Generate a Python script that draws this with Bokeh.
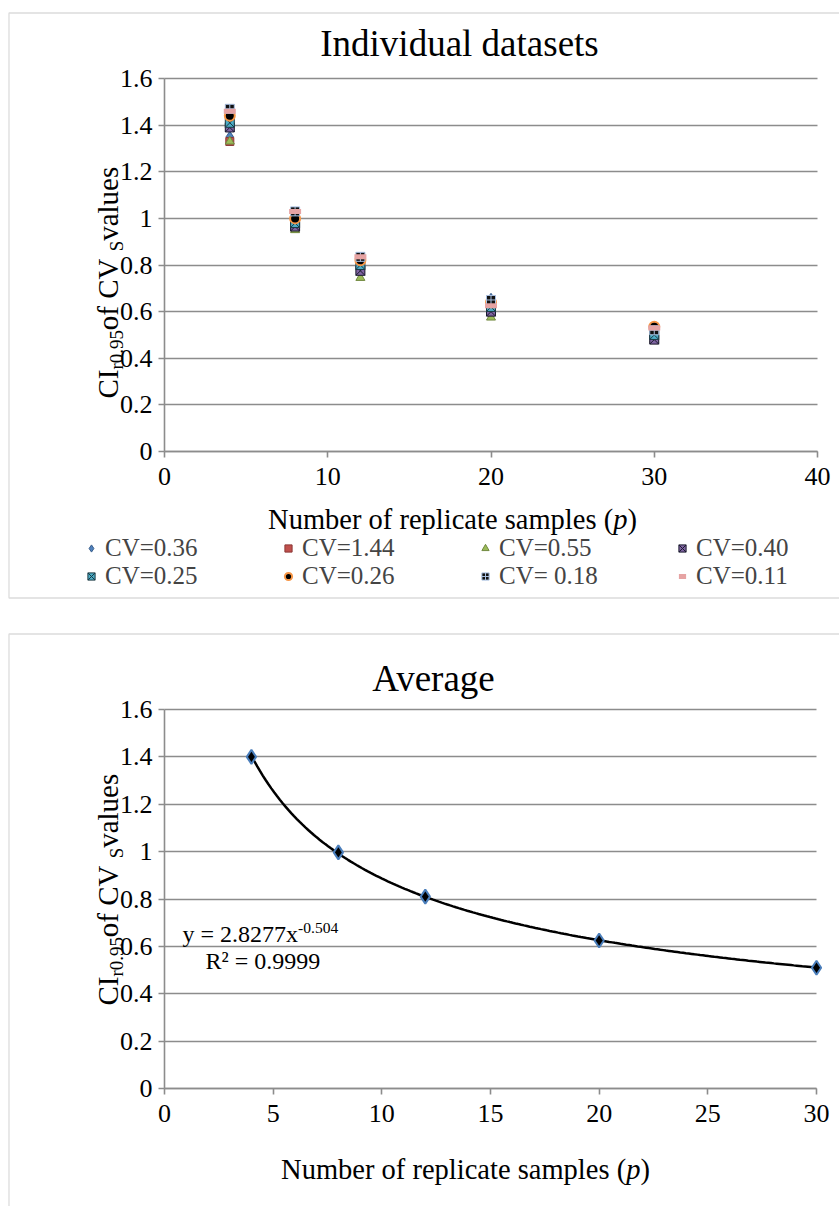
import numpy as np
from bokeh.plotting import figure
from bokeh.models import (Range1d, Legend, LegendItem, Label, FixedTicker, LinearAxis, Grid,
                          NumeralTickFormatter, BoxAnnotation)
from bokeh.layouts import column
from bokeh.embed import file_html
from bokeh.resources import INLINE

# ---------------- data ----------------
p_values = [4, 8, 12, 20, 30]
series_labels = ["CV=0.36", "CV=1.44", "CV=0.55", "CV=0.40",
                 "CV=0.25", "CV=0.26", "CV= 0.18", "CV=0.11"]
cv_036 = [1.35, 0.97, 0.79, 0.655, 0.50]
cv_144 = [1.33, 0.96, 0.78, 0.60, 0.48]
cv_055 = [1.33, 0.95, 0.745, 0.575, 0.48]
cv_040 = [1.39, 0.965, 0.775, 0.60, 0.48]
cv_025 = [1.41, 0.98, 0.80, 0.62, 0.50]
cv_026 = [1.44, 1.00, 0.82, 0.64, 0.535]
cv_018 = [1.47, 1.03, 0.835, 0.65, 0.52]
cv_011 = [1.46, 1.03, 0.835, 0.625, 0.53]
avg_values = [1.40, 0.997, 0.81, 0.625, 0.51]
x_ticks_top = [0, 10, 20, 30, 40]
x_ticks_bottom = [0, 5, 10, 15, 20, 25, 30]
y_ticks = [0, 0.2, 0.4, 0.6, 0.8, 1.0, 1.2, 1.4, 1.6]
title_top = "Individual datasets"
title_bottom = "Average"
eq_text = "y = 2.8277x"
eq_exp = "-0.504"
r2_text = "R² = 0.9999"

FONT = "Liberation Serif"
GRID = "#8c8c8c"
W = 839
BASE_FIX = 0.4   # empirical baseline correction (fraction of font size)

# Times / Liberation Serif advance widths (per em)
TW = {'C': .667, 'I': .333, ' ': .25, 'o': .5, 'f': .333, 'V': .722, 'v': .5,
      'a': .444, 'l': .278, 'u': .5, 'e': .444, 's': .389, 'r': .333, '.': .25,
      'S': .556, 'N': .722, 'm': .778, 'b': .5, 'p': .5, 't': .278, 'c': .444,
      '(': .333, ')': .333, 'i': .278, 'n': .5, '=': .564, 'y': .5, 'x': .5,
      'R': .667, '²': .3, '-': .333}


def tw(s, size):
    return sum(TW.get(ch, .5) for ch in s) * size


class Fig:
    """Figure whose frame fills the canvas; plot area given in canvas pixels."""

    def __init__(self, height, xmax, xticks, px_left, px_right, px_top, px_bottom):
        sx = (px_right - px_left) / xmax
        sy = (px_bottom - px_top) / 1.6
        self.px_left, self.px_bottom, self.h = px_left, px_bottom, height
        p = figure(width=W, height=height, output_backend="svg", toolbar_location=None,
                   x_range=Range1d(-px_left / sx, (W - px_left) / sx),
                   y_range=Range1d(-(height - px_bottom) / sy, px_bottom / sy),
                   x_axis_type=None, y_axis_type=None,
                   min_border=0, min_border_left=0, min_border_right=0,
                   min_border_top=0, min_border_bottom=0)
        p.outline_line_color = None
        p.background_fill_color = "white"
        p.border_fill_color = "white"

        g = Grid(dimension=1, ticker=FixedTicker(ticks=y_ticks),
                 grid_line_color=GRID, grid_line_width=1.6)
        if "cross_bounds" in Grid.properties():
            g.cross_bounds = (0, xmax)
            p.add_layout(g, "center")
        else:
            p.segment(x0=[0] * len(y_ticks), x1=[xmax] * len(y_ticks), y0=y_ticks,
                      y1=y_ticks, line_color=GRID, line_width=1.6, level="underlay")

        xa = LinearAxis(fixed_location=0, bounds=(0, xmax), ticker=FixedTicker(ticks=xticks),
                        formatter=NumeralTickFormatter(format="0"))
        ya = LinearAxis(fixed_location=0, bounds=(0, 1.6), ticker=FixedTicker(ticks=y_ticks),
                        formatter=NumeralTickFormatter(format="0.[0]"))
        for ax in (xa, ya):
            ax.axis_line_color = GRID
            ax.axis_line_width = 1.6
            ax.major_tick_line_color = GRID
            ax.major_tick_line_width = 1.6
            ax.major_tick_in = 0
            ax.major_tick_out = 6
            ax.minor_tick_line_color = None
            ax.major_label_text_font = FONT
            ax.major_label_text_font_size = "26px"
            ax.major_label_text_color = "black"
        ya.major_label_standoff = 6
        xa.major_label_standoff = 10
        p.add_layout(xa, "below")
        p.add_layout(ya, "left")
        self.p = p

    def text(self, txt, x, y, size, align="left", style="normal", vertical=False):
        # x, y: canvas pixel position of the text baseline anchor
        if vertical:
            x, y, angle = x - BASE_FIX * size, y, np.pi / 2
        else:
            x, y, angle = x, y - BASE_FIX * size, 0.0
        self.p.add_layout(Label(x=0, y=0, x_offset=x - self.px_left,
                                y_offset=self.px_bottom - y, text=txt, angle=angle,
                                text_align=align, text_baseline="alphabetic",
                                text_font=FONT, text_font_style=style,
                                text_font_size=f"{size:.1f}px", text_color="black"))

    def ylabel(self, x_base, y_start, size):
        sub = size * 0.65
        pieces = [("CI", size, 0), ("r0.95", sub, 5), (" of CV", size, 0),
                  ("S", sub, 5), (" values", size, 0)]
        y = y_start
        for txt, sz, shift in pieces:
            self.text(txt, x_base + shift, y, sz, vertical=True)
            y -= tw(txt, sz)

    def xlabel(self, cx, y, size):
        a = "Number of replicate samples ("
        total = tw(a, size) + tw("p", size) + tw(")", size)
        x0 = cx - total / 2
        for txt, style in [(a, "normal"), ("p", "italic"), (")", "normal")]:
            self.text(txt, x0, y, size, style=style)
            x0 += tw(txt, size)

    def border(self, top, bottom):
        self.p.add_layout(BoxAnnotation(left=8.5, right=2000, top=top, bottom=bottom,
                                        left_units="canvas", right_units="canvas",
                                        top_units="canvas", bottom_units="canvas",
                                        fill_alpha=0, line_color="#8a8a8a", line_width=1.3,
                                        level="underlay"))


# ---------------- top chart ----------------
H1 = 616
f1 = Fig(H1, 40, x_ticks_top, 164, 817, 78, 451)
p1 = f1.p
f1.border(12.5, 597.5)
f1.text(title_top, 459, 58, 37, align="center")

series = [cv_036, cv_144, cv_055, cv_040, cv_025, cv_026, cv_018, cv_011]
styles = [
    dict(marker="diamond", fill_color="#4F81BD", line_color="#385D8A", size=11),
    dict(marker="square", fill_color="#C0504D", line_color="#8C3836", size=8),
    dict(marker="triangle", fill_color="#9BBB59", line_color="#71893F", size=9),
    dict(marker="square_x", fill_color="#8064A2", line_color="#1a1a2e", size=9),
    dict(marker="square_x", fill_color="#4BACC6", line_color="#1a3a44", size=9),
    dict(marker="circle", fill_color="black", line_color="#F79646", size=10, line_width=2),
    dict(marker="square_cross", fill_color="#111111", line_color="#A8BFE0", size=9),
    dict(marker="dash", line_color="#E6A3A3", size=12, line_width=5),
]
items = []
for lbl, vals, st in zip(series_labels, series, styles):
    r = p1.scatter(p_values, vals, **st)
    items.append(LegendItem(label=lbl, renderers=[r]))

f1.ylabel(119, 398, 29)
f1.xlabel(452, 530, 28.5)

for row, bottom in ((items[:4], 562), (items[4:], 590)):
    lg = Legend(items=row, orientation="horizontal", location=(82, H1 - bottom),
                label_text_font=FONT, label_text_font_size="25px",
                glyph_width=18, glyph_height=18, label_standoff=5, label_height=26,
                label_width=174, spacing=0, padding=0, margin=0,
                border_line_alpha=0, background_fill_alpha=0)
    p1.add_layout(lg, "center")

# ---------------- bottom chart ----------------
H2 = 1206 - H1
top2 = H1
f2 = Fig(H2, 30, x_ticks_bottom, 164, 816, 709 - top2, 1088 - top2)
p2 = f2.p
f2.border(633.5 - top2, 5000)
f2.text(title_bottom, 433, 693 - top2, 37, align="center")

xs = np.array(p_values, dtype=float)
coef = np.polyfit(np.log(xs), np.log(avg_values), 1)
xf = np.linspace(min(p_values), max(p_values), 200)
yf = np.exp(coef[1]) * xf ** coef[0]
p2.line(xf, yf, line_color="black", line_width=2.5)
p2.scatter(p_values, avg_values, marker="diamond", size=14,
           fill_color="black", line_color="#4A7EBB", line_width=2)

f2.ylabel(119, 1005 - top2, 29)
f2.xlabel(465, 1180 - top2, 28.5)

eqs = 24
f2.text(eq_text, 182, 943 - top2, eqs)
f2.text(eq_exp, 182 + tw(eq_text, eqs), 934 - top2, eqs * 0.65)
f2.text(r2_text, 205, 970 - top2, eqs)

layout = column(p1, p2, spacing=0)
open("out.html", "w").write(file_html(layout, INLINE))
